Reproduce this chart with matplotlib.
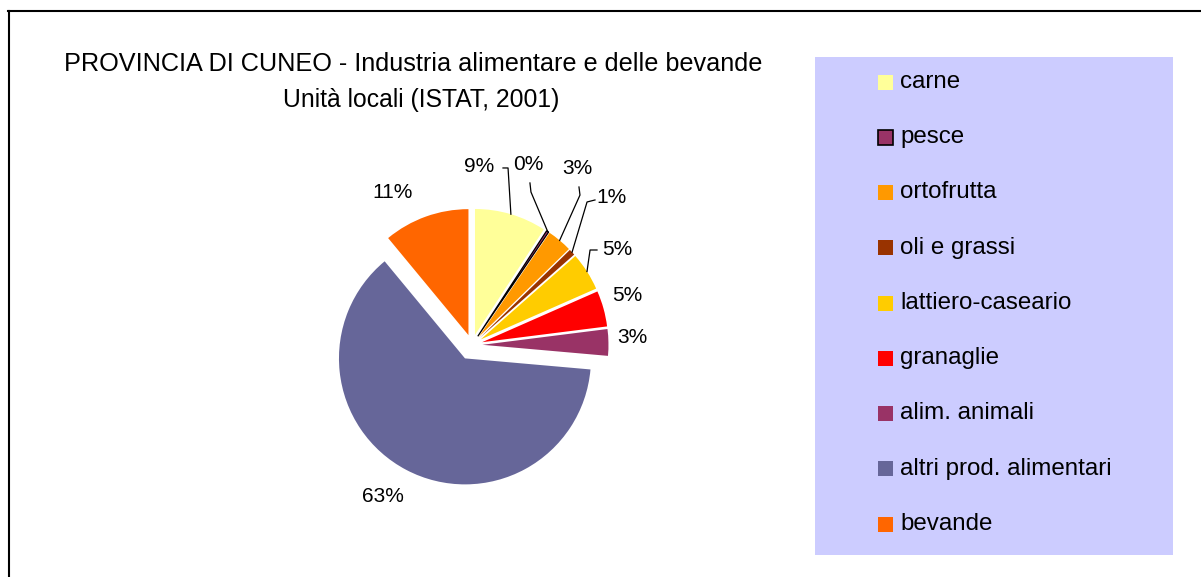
import numpy as np
import matplotlib.pyplot as plt
from matplotlib.patches import Rectangle
from matplotlib.lines import Line2D

plt.rcParams['font.family'] = ['Liberation Sans', 'DejaVu Sans']

# --- dati ---
categorie = ["carne", "pesce", "ortofrutta", "oli e grassi", "lattiero-caseario",
             "granaglie", "alim. animali", "altri prod. alimentari", "bevande"]
quote = [9.2, 0.3, 3.2, 0.8, 4.9, 4.6, 3.4, 62.6, 11.0]
colori = ["#FFFF99", "#993366", "#FF9900", "#993300", "#FFCC00",
          "#FF0000", "#993366", "#666699", "#FF6600"]
etichette = [f"{round(v)}%" for v in quote]

titolo1 = "PROVINCIA DI CUNEO - Industria alimentare e delle bevande"
titolo2 = "Unità locali (ISTAT, 2001)"

# --- layout ---
W, H = 1201, 577
esplodi = [0.083, 0.083, 0.083, 0.083, 0.083, 0.083, 0.083, 0.12, 0.083]
# posizione etichette (unità del raggio) e tratti delle linee guida
pos_etichette = [(0.06, 1.42), (0.45, 1.43), (0.84, 1.40), (1.11, 1.17), (1.15, 0.76),
                 (1.23, 0.39), (1.27, 0.06), (-0.71, -1.20), (-0.63, 1.21)]
guide = {0: [(0.246, 1.405), (0.286, 1.405)],
         1: [(0.46, 1.286), (0.468, 1.214)],
         2: [(0.849, 1.254), (0.857, 1.19)],
         3: [(0.976, 1.151), (0.913, 1.135)],
         4: [(0.992, 0.754), (0.937, 0.754)]}

fig = plt.figure(figsize=(W / 100, H / 100), dpi=100)
fig.patch.set_facecolor("white")

# cornice
fig.add_artist(Line2D([8.5 / W, 8.5 / W], [0, (H - 11) / H], transform=fig.transFigure,
                      color="black", lw=1.5))
fig.add_artist(Line2D([8 / W, 1], [(H - 11) / H, (H - 11) / H], transform=fig.transFigure,
                      color="black", lw=1.5))

# titolo
fig.text(413 / W, 1 - 64 / H, titolo1, ha="center", va="center", fontsize=18.2)
fig.text(421 / W, 1 - 100 / H, titolo2, ha="center", va="center", fontsize=17.8)

# torta
ax = fig.add_axes([283 / W, 43 / H, 378 / W, 378 / H])
wedges, _ = ax.pie(quote, colors=colori, explode=esplodi, startangle=90,
                   counterclock=False, radius=1, wedgeprops=dict(linewidth=0))
wedges[1].set_edgecolor("black")
wedges[1].set_linewidth(0.9)
ax.set_xlim(-1.5, 1.5)
ax.set_ylim(-1.5, 1.5)
ax.set_aspect("equal")
ax.axis("off")

for i, (w, lab) in enumerate(zip(wedges, etichette)):
    x, y = pos_etichette[i]
    ax.text(x, y, lab, ha="center", va="center", fontsize=15)
    if i in guide:
        a = np.deg2rad((w.theta1 + w.theta2) / 2)
        cx, cy = w.center
        px, py = cx + w.r * np.cos(a), cy + w.r * np.sin(a)
        pts = guide[i] + [(px, py)]
        ax.plot([p[0] for p in pts], [p[1] for p in pts], color="black", lw=0.9)

# legenda
leg = fig.add_axes([815 / W, (H - 555) / H, 358 / W, 498 / H])
leg.set_facecolor("#CCCCFF")
leg.set_xlim(0, 358)
leg.set_ylim(498, 0)
leg.set_xticks([])
leg.set_yticks([])
for s in leg.spines.values():
    s.set_visible(False)
for i, (nome, col) in enumerate(zip(categorie, colori)):
    y = 25 + i * 55.25
    ec = "black" if i == 1 else col
    leg.add_patch(Rectangle((63, y - 7.5), 15, 15, facecolor=col, edgecolor=ec,
                            lw=1.2 if i == 1 else 0))
    leg.text(85, y, nome, ha="left", va="center", fontsize=17.4)

fig.savefig("out.png", dpi=100)
